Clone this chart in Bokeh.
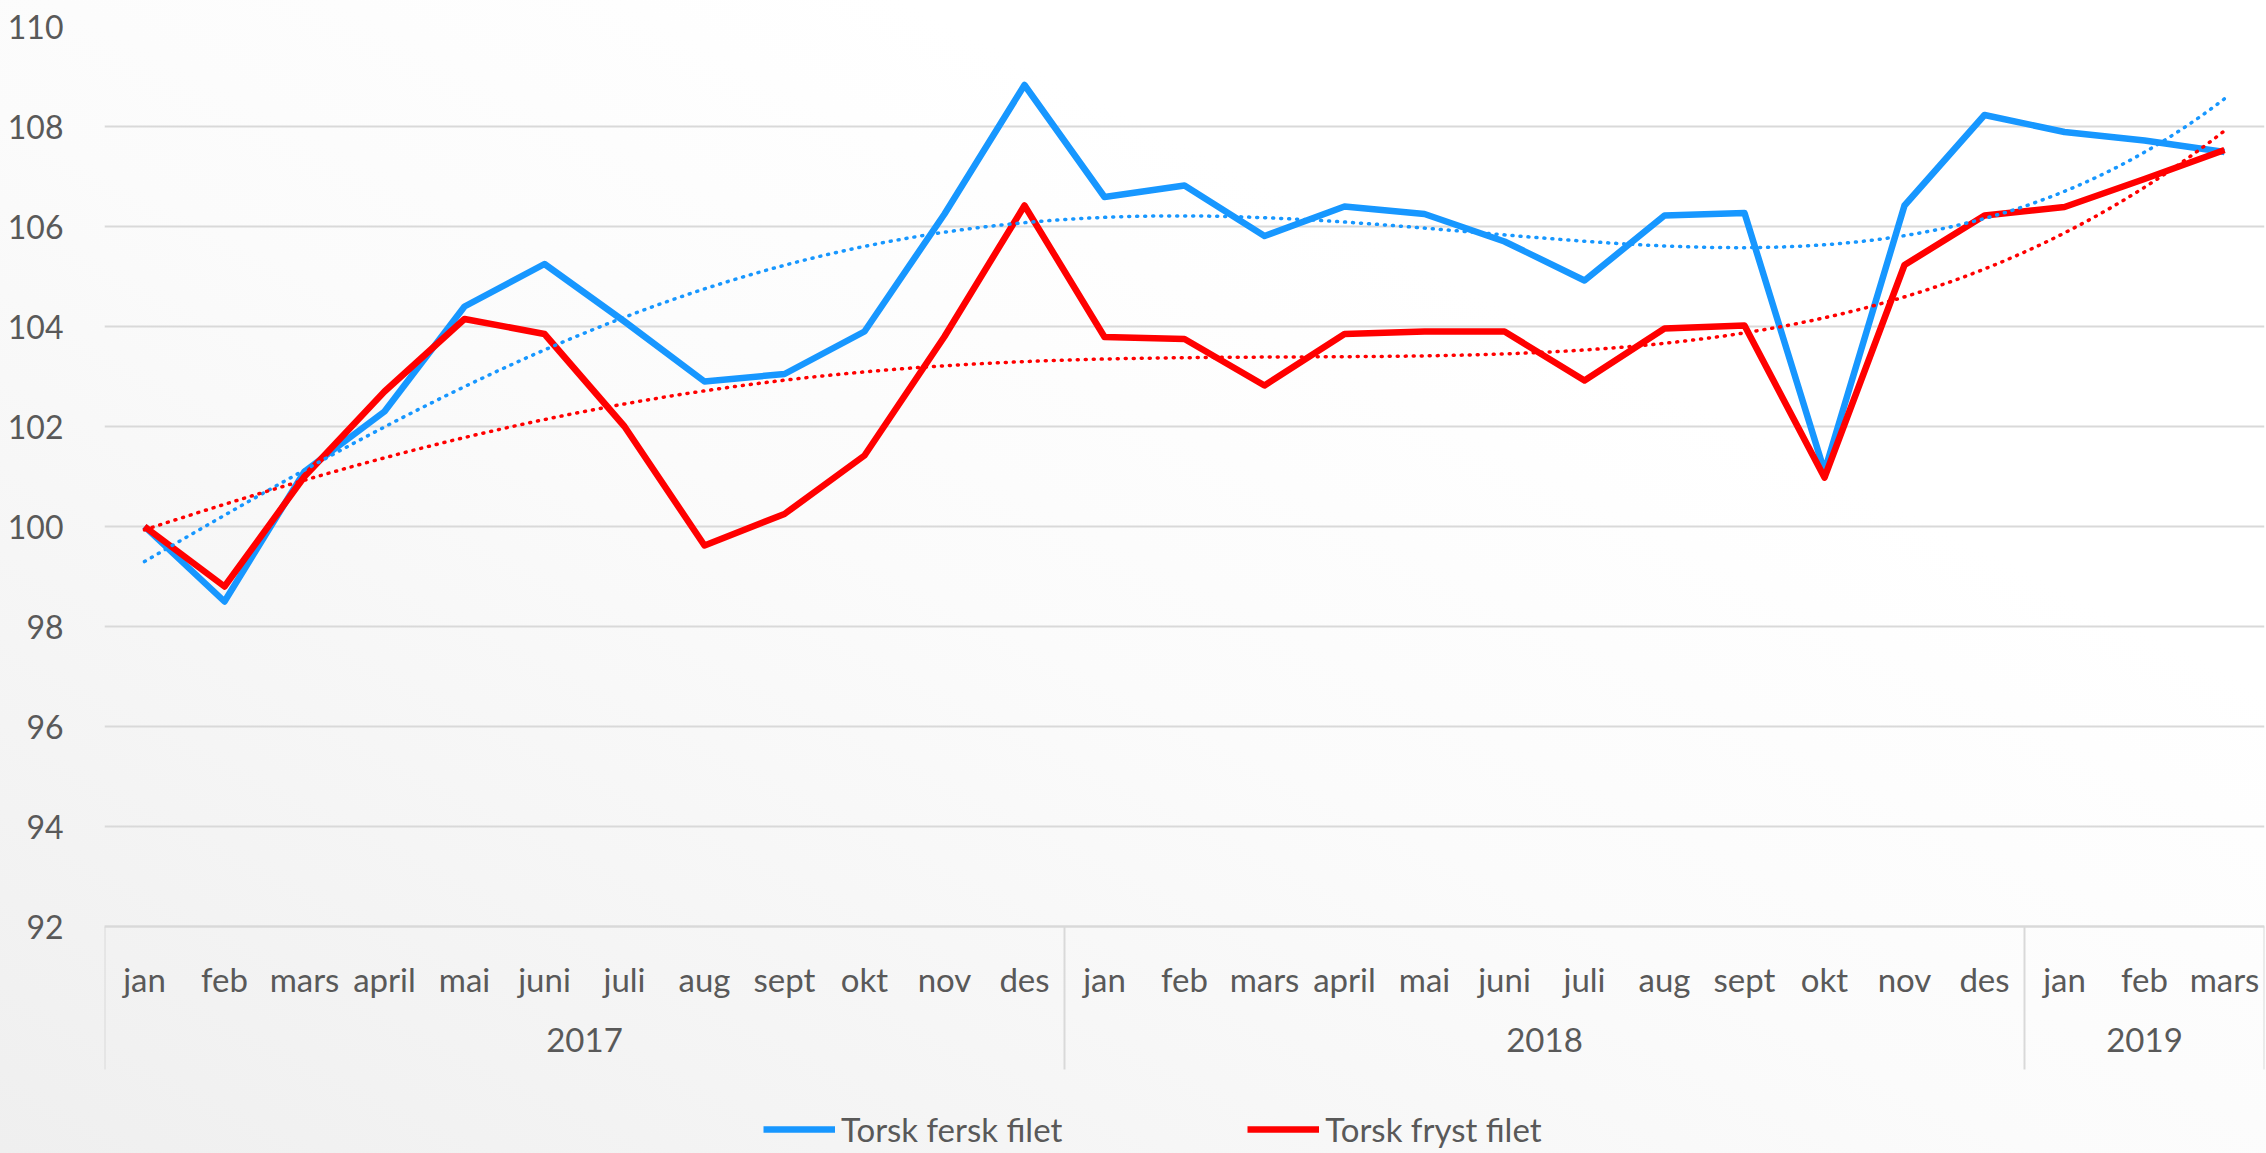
import numpy as np
from bokeh.plotting import figure
from bokeh.models import (FactorRange, Range1d, Legend, LegendItem, FixedTicker,
                          LinearAxis, CategoricalAxis, ColumnDataSource)
from bokeh.embed import file_html
from bokeh.resources import INLINE

# ---- data ----
years = ["2017"] * 12 + ["2018"] * 12 + ["2019"] * 3
months = ["jan", "feb", "mars", "april", "mai", "juni", "juli", "aug", "sept", "okt", "nov", "des",
          "jan", "feb", "mars", "april", "mai", "juni", "juli", "aug", "sept", "okt", "nov", "des",
          "jan", "feb", "mars"]
fersk = [100.0, 98.5, 101.1, 102.3, 104.4, 105.25, 104.1, 102.9, 103.05, 103.9, 106.25, 108.83,
         106.59, 106.82, 105.81, 106.4, 106.25, 105.7, 104.92, 106.22, 106.27, 101.1, 106.42, 108.23,
         107.89, 107.72, 107.49]
fryst = [100.0, 98.8, 101.0, 102.7, 104.15, 103.85, 102.0, 99.62, 100.25, 101.42, 103.8, 106.42,
         103.79, 103.75, 102.82, 103.85, 103.9, 103.9, 102.92, 103.96, 104.02, 100.98, 105.23, 106.22,
         106.39, 106.95, 107.53]
series_names = ["Torsk fersk filet", "Torsk fryst filet"]
y_ticks = [92, 94, 96, 98, 100, 102, 104, 106, 108, 110]
TREND_ORDER = 4

FONT = "Lato"
TXT = "#595959"
GRID = "#d9d9d9"
BLUE = "#1797FF"
RED = "#FF0000"

# layout: the frame is extended below the value 92 so that the category
# axis (pinned at 92) and the legend are drawn inside it
Y_MIN_AXIS = y_ticks[0]
Y_MAX = y_ticks[-1]
FRAME_H = 1127
PX_PER_UNIT = 50.0
Y_BOTTOM = Y_MAX - FRAME_H / PX_PER_UNIT

factors = list(zip(years, months))
n = len(factors)
uniq_years = list(dict.fromkeys(years))
# group edges in the range's synthetic units (category i spans [i, i+1])
edges = [0.0] + [float(v) for v in np.cumsum([years.count(y) for y in uniq_years])]

p = figure(frame_width=2160, frame_height=FRAME_H,
           x_range=FactorRange(*factors, factor_padding=0, group_padding=0, range_padding=0),
           y_range=Range1d(Y_BOTTOM, Y_MAX), x_axis_location=None,
           output_backend="svg", toolbar_location=None,
           min_border_left=104, min_border_right=2, min_border_top=26, min_border_bottom=0,
           styles={"background": "linear-gradient(to top right, #efefef 0%, #fbfbfb 45%, #ffffff 70%)"})
p.background_fill_color = None
p.border_fill_color = None
p.outline_line_color = None
p.xgrid.visible = False

# y axis
yt = FixedTicker(ticks=y_ticks)
p.yaxis.ticker = yt
p.ygrid.ticker = yt
p.yaxis.axis_line_color = None
p.yaxis.major_tick_line_color = None
p.yaxis.minor_tick_line_color = None
p.yaxis.major_label_standoff = 35
p.yaxis.major_label_text_font = FONT
p.yaxis.major_label_text_font_size = "32px"
p.yaxis.major_label_text_color = TXT
p.ygrid.grid_line_color = GRID
p.ygrid.grid_line_width = 2

# category box (top line + group separators), no labels of its own
box_axis = LinearAxis(ticker=FixedTicker(ticks=edges), fixed_location=Y_MIN_AXIS,
                      major_label_overrides={e: "" for e in edges},
                      major_tick_in=-143, major_tick_out=0,
                      major_tick_line_color=GRID, major_tick_line_width=2,
                      minor_tick_line_color=None,
                      axis_line_color=GRID, axis_line_width=2,
                      major_label_text_font_size="1px", major_label_standoff=0)
p.add_layout(box_axis, "below")

cat_axis = CategoricalAxis(fixed_location=Y_MIN_AXIS,
                           major_tick_line_color=None, minor_tick_line_color=None,
                           axis_line_color=None, separator_line_color=None,
                           major_label_standoff=26,
                           major_label_text_font=FONT, major_label_text_font_size="33px",
                           major_label_text_color=TXT,
                           group_text_font=FONT, group_text_font_size="33px",
                           group_text_font_style="normal", group_text_color=TXT)
p.add_layout(cat_axis, "below")

# lines
src = ColumnDataSource(dict(x=factors, fersk=fersk, fryst=fryst))
r1 = p.line("x", "fersk", source=src, color=BLUE, line_width=6.5, line_join="round")
r2 = p.line("x", "fryst", source=src, color=RED, line_width=6.5, line_join="round")

# polynomial trendlines (fitted from the data), drawn in the range's synthetic units
xi = np.arange(n) + 0.5
xs = np.linspace(0.5, n - 0.5, 500)
for vals, col in ((fersk, BLUE), (fryst, RED)):
    poly = np.polynomial.Polynomial.fit(xi, vals, TREND_ORDER)
    p.line(xs, poly(xs), color=col, line_width=3.5, line_dash="1 7", line_cap="round")

legend = Legend(items=[LegendItem(label=series_names[0], renderers=[r1]),
                       LegendItem(label=series_names[1], renderers=[r2])],
                orientation="horizontal", location=(659, 4),
                label_text_font=FONT, label_text_font_size="33px", label_text_color=TXT,
                glyph_width=72, glyph_height=30, spacing=185, label_standoff=6,
                border_line_color=None, background_fill_alpha=0, padding=0, margin=0)
p.add_layout(legend, "center")

open("out.html", "w").write(file_html(p, INLINE))
